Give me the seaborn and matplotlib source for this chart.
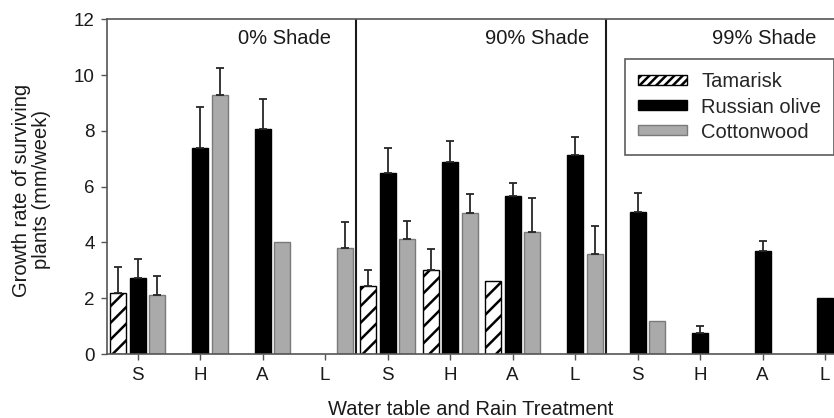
import numpy as np
import pandas as pd
import matplotlib
matplotlib.use("Agg")
import matplotlib.pyplot as plt
from matplotlib.patches import Patch
import seaborn as sns

# treatments: water table / rain code inside each shade level
shades = ["0% Shade", "90% Shade", "99% Shade"]
codes = ["S", "H", "A", "L"]
species = ["Tamarisk", "Russian olive", "Cottonwood"]

# mean growth rate (mm/week), 12 treatments in order; nan = no surviving plants
tamarisk = [2.18, np.nan, np.nan, np.nan, 2.43, 3.01, 2.61, np.nan, np.nan, np.nan, np.nan, np.nan]
olive = [2.73, 7.39, 8.07, np.nan, 6.50, 6.87, 5.65, 7.15, 5.08, 0.75, 3.70, 2.00]
cotton = [2.13, 9.27, 4.01, 3.80, 4.13, 5.04, 4.37, 3.60, 1.20, np.nan, np.nan, np.nan]

# standard error (upper bar only)
tamarisk_se = [0.93, np.nan, np.nan, np.nan, 0.60, 0.76, 0.0, np.nan, np.nan, np.nan, np.nan, np.nan]
olive_se = [0.66, 1.47, 1.08, np.nan, 0.87, 0.76, 0.49, 0.63, 0.69, 0.25, 0.36, 0.0]
cotton_se = [0.67, 0.97, 0.0, 0.95, 0.65, 0.71, 1.22, 0.99, 0.0, np.nan, np.nan, np.nan]

groups = [s + " " + c for s in shades for c in codes]
tick_labels = codes * 3

df = pd.DataFrame({
    "group": groups * 3,
    "species": np.repeat(species, len(groups)),
    "rate": tamarisk + olive + cotton,
    "se": tamarisk_se + olive_se + cotton_se,
}).dropna(subset=["rate"])

sns.set_style("ticks")
plt.rcParams["font.family"] = ["Liberation Sans", "DejaVu Sans"]
plt.rcParams["hatch.linewidth"] = 1.8
plt.rcParams["hatch.color"] = "black"

colors = {"Tamarisk": "white", "Russian olive": "black", "Cottonwood": "#aaaaaa"}
edges = {"Tamarisk": "black", "Russian olive": "black", "Cottonwood": "#7a7a7a"}
txt = "#1a1a1a"

fig = plt.figure(figsize=(8.34, 4.18), dpi=100)
ax = fig.add_axes([0.1287, 0.153, 0.898, 0.801])

sns.barplot(data=df, x="group", y="rate", hue="species", order=groups,
            hue_order=species, palette=colors, saturation=1, errorbar=None,
            width=0.936, gap=0.18, ax=ax, legend=False)

for cont, sp in zip(ax.containers, species):
    sub = df[df["species"] == sp].set_index("group")
    for bar in cont:
        bar.set_edgecolor(edges[sp])
        bar.set_linewidth(1.0)
        if sp == "Tamarisk":
            bar.set_hatch("//")
        xc = bar.get_x() + bar.get_width() / 2
        g = groups[int(round(xc))]
        se = sub.loc[g, "se"]
        if se > 0:
            ax.errorbar(xc, bar.get_height(), yerr=[[0], [se]], fmt="none",
                        ecolor="#262626", elinewidth=1.3, capsize=3, capthick=1.3,
                        zorder=1)

for x in [3.5, 7.5]:
    ax.axvline(x, color="#1a1a1a", lw=1.5)

for x, s in zip([2.35, 6.40, 10.02], shades):
    ax.text(x, 11.32, s, ha="center", va="center", fontsize=14.5, color=txt)

ax.set_xlim(-0.486, 11.5)
ax.set_ylim(0, 12)
ax.set_yticks(range(0, 13, 2))
ax.set_xticks(range(len(groups)))
ax.set_xticklabels(tick_labels)
ax.tick_params(axis="both", labelsize=13.5, length=4, width=1, color="#555555",
               labelcolor=txt, pad=5)
for sp in ax.spines.values():
    sp.set_visible(True)
    sp.set_color("#555555")
    sp.set_linewidth(1.2)

ax.set_xlabel("Water table and Rain Treatment", fontsize=14.5, color=txt)
ax.set_ylabel("Growth rate of surviving\nplants (mm/week)", fontsize=14.5,
              color=txt, linespacing=1.05)
ax.xaxis.set_label_coords(0.485, -0.137)
ax.yaxis.set_label_coords(-0.075, 0.49)

handles = [Patch(facecolor=colors[s], edgecolor=edges[s],
                 hatch="////" if s == "Tamarisk" else None, label=s) for s in species]
leg = ax.legend(handles=handles, loc="upper left", bbox_to_anchor=(0.691, 0.88),
                fontsize=14.5, frameon=True, fancybox=False, handlelength=2.45,
                handleheight=0.4, handletextpad=0.7, labelspacing=0.3,
                borderpad=0.65, borderaxespad=0)
leg.get_frame().set_edgecolor("#333333")
leg.get_frame().set_linewidth(1.2)

fig.savefig("out.png", dpi=100)
